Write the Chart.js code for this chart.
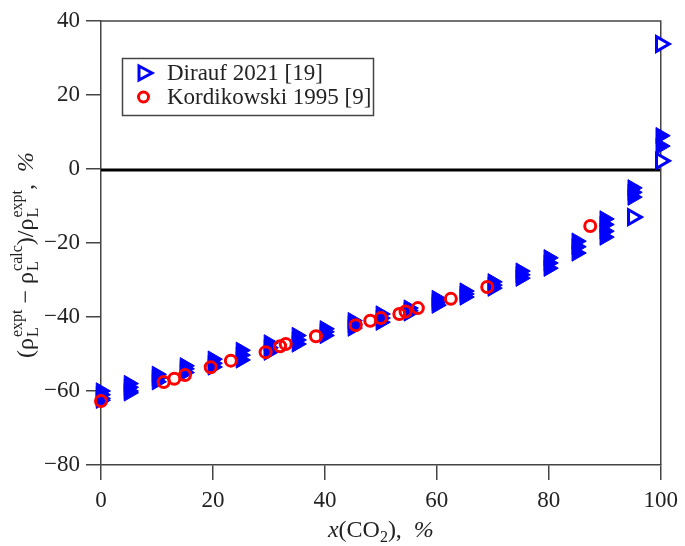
<!DOCTYPE html>
<html lang="en">
<head>
<meta charset="UTF-8">
<title>Liquid density deviation</title>
<script src="https://cdn.jsdelivr.net/npm/chart.js@4.4.0/dist/chart.umd.min.js"></script>
<style>
    html, body { margin: 0; padding: 0; background: #fff; }
    canvas { display: block; }
</style>
</head>
<body>
<canvas id="chart" width="685" height="546"></canvas>
<script>
    // Dirauf 2021 [19], filled markers
    const diraufX = [0, 0, 0, 0, 5, 5, 5, 5, 10, 10, 10, 15, 15, 15, 20, 20, 20,
        25, 25, 25, 30, 30, 30, 35, 35, 35, 40, 40, 40, 45, 45, 45, 50, 50, 50,
        55, 55, 55, 60, 60, 60, 65, 65, 65, 70, 70, 70, 75, 75, 75, 80, 80, 80,
        85, 85, 85, 90, 90, 90, 90, 95, 95, 95, 100, 100];
    const diraufY = [-60, -61, -62, -62.5, -58, -59, -60, -60.5, -55.5, -56.5, -57.5,
        -53.2, -54, -55, -51.4, -52.5, -53.5, -49, -50.3, -51.6, -47, -48.3, -49.5,
        -45, -46.2, -47.3, -43.2, -44, -45, -41, -42, -43, -39.2, -40.3, -41.4,
        -37.6, -38.3, -38.9, -35, -36, -36.8, -33, -33.8, -34.6, -30.5, -31.4, -32.2,
        -27.6, -28.6, -29.5, -24, -25.4, -26.8, -19.5, -21, -22.7,
        -13.5, -15, -16.8, -18.4, -5.1, -6.3, -7.6, 9, 6.2];
    // Dirauf 2021 [19], open markers
    const diraufOpenX = [95, 100, 100];
    const diraufOpenY = [-13, 33.8, 2.2];
    // Kordikowski 1995 [9]
    const kordX = [0, 11.2, 13.1, 15, 19.6, 23.2, 29.4, 32, 33, 38.4, 45.5, 48.1, 50,
        53.3, 54.4, 56.6, 62.5, 69, 87.4];
    const kordY = [-62.7, -57.6, -56.7, -55.7, -53.6, -51.8, -49.5, -47.9, -47.3, -45.2,
        -42.2, -41, -40.3, -39.2, -38.5, -37.6, -35.1, -31.9, -15.4];

    const xTicks = [0, 20, 40, 60, 80, 100];
    const yTicks = [-80, -60, -40, -20, 0, 20, 40];
    const legendNames = ['Dirauf 2021 [19]', 'Kordikowski 1995 [9]'];

    const SERIF = '"Liberation Serif", "Times New Roman", serif';
    const BLUE = '#0000ff';
    const RED = '#ff0000';
    const INK = '#222';
    const FRAME = '#444';

    function pts(xs, ys) {
        return xs.map((x, i) => ({ x: x, y: ys[i] }));
    }

    function fnt(size, italic) {
        return (italic ? 'italic ' : '') + size + 'px ' + SERIF;
    }

    // rich text: n normal, i italic, b subscript, s stacked [sub, sup]
    const BIG = 24, SMALL = 16;
    function partWidth(ctx, p) {
        if (p[1] === 's') {
            ctx.font = fnt(SMALL);
            return Math.max(ctx.measureText(p[0][0]).width, ctx.measureText(p[0][1]).width) + 1;
        }
        ctx.font = p[1] === 'b' ? fnt(SMALL) : fnt(BIG, p[1] === 'i');
        return ctx.measureText(p[0]).width;
    }
    function drawRich(ctx, parts, cx, y) {
        let w = 0;
        parts.forEach(p => { w += partWidth(ctx, p); });
        let x = cx - w / 2;
        ctx.textAlign = 'left';
        ctx.textBaseline = 'alphabetic';
        ctx.fillStyle = INK;
        parts.forEach(p => {
            const pw = partWidth(ctx, p);
            if (p[1] === 's') {
                ctx.font = fnt(SMALL);
                ctx.fillText(p[0][0], x + 1, y + 5);
                ctx.fillText(p[0][1], x + 1, y - 11);
            } else if (p[1] === 'b') {
                ctx.font = fnt(SMALL);
                ctx.fillText(p[0], x, y + 5);
            } else {
                ctx.font = fnt(BIG, p[1] === 'i');
                ctx.fillText(p[0], x, y);
            }
            x += pw;
        });
    }

    const yTitle = [['(', 'n'], ['ρ', 'n'], [['L', 'expt'], 's'], [' − ', 'n'], ['ρ', 'n'],
        [['L', 'calc'], 's'], [')/', 'n'], ['ρ', 'n'], [['L', 'expt'], 's'], [',  ', 'n'], ['%', 'i']];
    const xTitle = [['x', 'i'], ['(CO', 'n'], ['2', 'b'], ['),  ', 'n'], ['%', 'i']];

    const decor = {
        id: 'decor',
        beforeDatasetsDraw(chart) {
            const ctx = chart.ctx;
            const a = chart.chartArea;
            const y0 = chart.scales.y.getPixelForValue(0) + 1;
            ctx.save();
            ctx.strokeStyle = '#000';
            ctx.lineWidth = 3;
            ctx.beginPath();
            ctx.moveTo(a.left, y0);
            ctx.lineTo(a.right, y0);
            ctx.stroke();
            // top and right frame
            ctx.strokeStyle = FRAME;
            ctx.lineWidth = 1.5;
            ctx.beginPath();
            ctx.moveTo(a.left, a.top);
            ctx.lineTo(a.right, a.top);
            ctx.lineTo(a.right, a.bottom);
            ctx.stroke();
            ctx.restore();
        },
        afterDraw(chart) {
            const ctx = chart.ctx;
            const a = chart.chartArea;
            ctx.save();
            // legend
            ctx.strokeStyle = FRAME;
            ctx.lineWidth = 1.5;
            ctx.strokeRect(122.5, 58.5, 251, 57);
            ctx.fillStyle = '#fff';
            ctx.strokeStyle = BLUE;
            ctx.lineWidth = 3;
            ctx.beginPath();
            ctx.moveTo(139, 66);
            ctx.lineTo(152, 73);
            ctx.lineTo(139, 80);
            ctx.closePath();
            ctx.fill();
            ctx.stroke();
            ctx.strokeStyle = RED;
            ctx.beginPath();
            ctx.arc(143.5, 97, 5, 0, Math.PI * 2);
            ctx.stroke();
            ctx.fillStyle = INK;
            ctx.font = fnt(23);
            ctx.textAlign = 'left';
            ctx.textBaseline = 'alphabetic';
            ctx.fillText(legendNames[0], 167, 80);
            ctx.fillText(legendNames[1], 167, 104);
            // axis titles
            drawRich(ctx, xTitle, (a.left + a.right) / 2, 537);
            ctx.translate(33, (a.top + a.bottom) / 2 + 12);
            ctx.rotate(-Math.PI / 2);
            drawRich(ctx, yTitle, 0, 0);
            ctx.restore();
        }
    };

    const axisGrid = {
        drawOnChartArea: false,
        tickLength: 15,
        tickColor: FRAME,
        lineWidth: 1.5
    };

    new Chart(document.getElementById('chart'), {
        type: 'scatter',
        data: {
            datasets: [{
                label: legendNames[1],
                data: pts(kordX, kordY),
                pointStyle: 'circle',
                pointRadius: 5.5,
                borderWidth: 3,
                borderColor: RED,
                backgroundColor: 'rgba(0,0,0,0)',
                clip: false
            }, {
                label: legendNames[0] + ' open',
                data: pts(diraufOpenX, diraufOpenY),
                pointStyle: 'triangle',
                rotation: 90,
                pointRadius: 8.5,
                borderWidth: 3,
                borderColor: BLUE,
                backgroundColor: '#fff',
                clip: false
            }, {
                label: legendNames[0],
                data: pts(diraufX, diraufY),
                pointStyle: 'triangle',
                rotation: 90,
                pointRadius: 9.5,
                borderWidth: 1,
                borderColor: BLUE,
                backgroundColor: BLUE,
                clip: false
            }]
        },
        options: {
            responsive: false,
            animation: false,
            layout: { padding: { top: 21, right: 19, left: 0, bottom: 0 } },
            plugins: {
                legend: { display: false },
                tooltip: { enabled: false }
            },
            scales: {
                x: {
                    type: 'linear',
                    min: 0,
                    max: 100,
                    afterBuildTicks: s => { s.ticks = xTicks.map(v => ({ value: v })); },
                    afterFit: s => { s.height = 81; },
                    grid: axisGrid,
                    border: { color: FRAME, width: 1.5 },
                    ticks: { color: INK, padding: 7, maxRotation: 0, font: { family: SERIF, size: 23 } }
                },
                y: {
                    type: 'linear',
                    min: -80,
                    max: 40,
                    afterBuildTicks: s => { s.ticks = yTicks.map(v => ({ value: v })); },
                    afterFit: s => { s.width = 101; },
                    grid: axisGrid,
                    border: { color: FRAME, width: 1.5 },
                    ticks: {
                        color: INK,
                        padding: 6,
                        font: { family: SERIF, size: 23 },
                        callback: v => v < 0 ? '−' + Math.abs(v) : String(v)
                    }
                }
            }
        },
        plugins: [decor]
    });
</script>
</body>
</html>
